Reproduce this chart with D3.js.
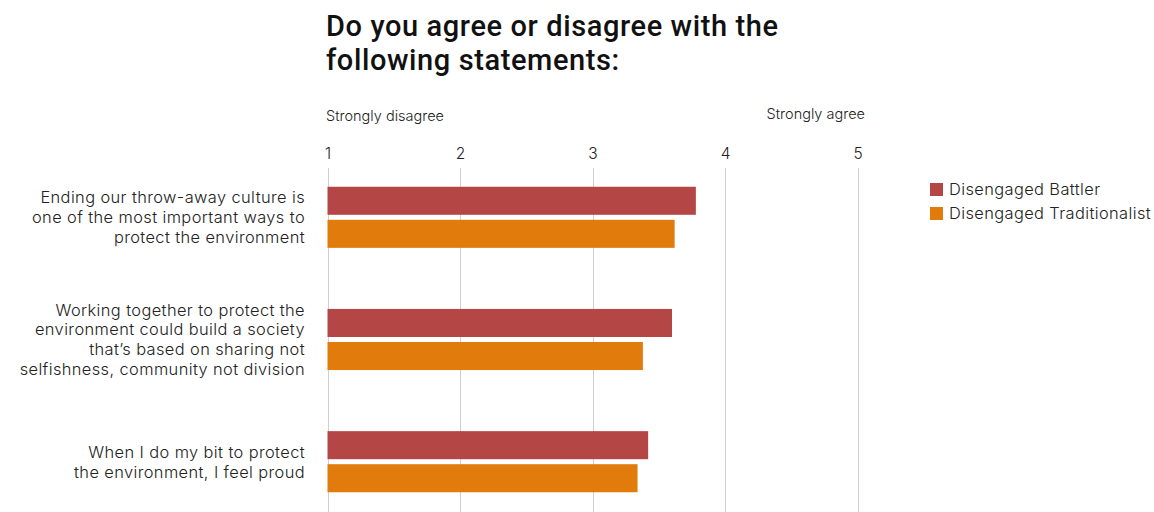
<!DOCTYPE html>
<html>
<head>
<meta charset="utf-8">
<script src="https://cdn.jsdelivr.net/npm/d3@7"></script>
<style>
  html, body { margin: 0; padding: 0; background: #fff; }
  svg { display: block; }
</style>
</head>
<body>
<svg id="chart" width="1154" height="512"></svg>
<script>
// Survey statements (each one wrapped onto lines as printed)
const statements = [
  ["Ending our throw-away culture is", "one of the most important ways to", "protect the environment"],
  ["Working together to protect the", "environment could build a society", "that\u2019s based on sharing not", "selfishness, community not division"],
  ["When I do my bit to protect", "the environment, I feel proud"]
];
const seriesNames = ["Disengaged Battler", "Disengaged Traditionalist"];
const battlerValues = [3.78, 3.60, 3.42];
const traditionalistValues = [3.62, 3.38, 3.34];
const tickValues = [1, 2, 3, 4, 5];
const scaleEnds = ["Strongly disagree", "Strongly agree"];
const titleLines = ["Do you agree or disagree with the", "following statements:"];

const colors = ["#b54646", "#e07b0c"];
const seriesValues = [battlerValues, traditionalistValues];

const svg = d3.select("#chart");
const textColor = "#222";
const lightFont = "Inter, 'Open Sans', sans-serif";

const x = d3.scaleLinear().domain([1, 5]).range([327.5, 857.5]);
const y = d3.scaleBand().domain(d3.range(statements.length))
  .range([156.2, 522.8]).paddingInner(0.5).paddingOuter(0.25);
const inner = d3.scaleBand().domain(d3.range(seriesNames.length))
  .range([0, y.bandwidth()]).paddingInner(0.1515);

// Title
svg.append("g").selectAll("text").data(titleLines).join("text")
  .attr("x", 326).attr("y", (d, i) => 36 + i * 34)
  .attr("font-family", "Roboto, sans-serif").attr("font-weight", 500)
  .attr("font-size", 29).attr("letter-spacing", 0.6)
  .attr("fill", "#111").text(d => d);

// Scale end captions
svg.append("text").attr("x", 326).attr("y", 121)
  .attr("font-family", lightFont).attr("font-weight", 300)
  .attr("font-size", 14.5).attr("fill", textColor).text(scaleEnds[0]);
svg.append("text").attr("x", 865).attr("y", 119).attr("text-anchor", "end")
  .attr("font-family", lightFont).attr("font-weight", 300)
  .attr("font-size", 14.5).attr("fill", textColor).text(scaleEnds[1]);

// Top axis with gridlines running down the chart
const axis = svg.append("g").attr("transform", "translate(0,170)")
  .call(d3.axisTop(x).tickValues(tickValues).tickSize(0).tickPadding(11).tickFormat(d3.format("d")));
axis.select(".domain").remove();
axis.selectAll("text")
  .attr("font-family", lightFont).attr("font-weight", 300)
  .attr("font-size", 15.5).attr("fill", textColor);

svg.append("g").selectAll("line").data(tickValues).join("line")
  .attr("x1", d => Math.round(x(d)) + 0.5).attr("x2", d => Math.round(x(d)) + 0.5)
  .attr("y1", 168).attr("y2", 512)
  .attr("stroke", "#cfcfcf").attr("stroke-width", 1);

// Bars
const groups = svg.append("g").selectAll("g").data(statements).join("g")
  .attr("transform", (d, i) => `translate(0,${y(i)})`);

groups.selectAll("rect")
  .data((d, i) => seriesValues.map((vals, s) => ({ s, v: vals[i] })))
  .join("rect")
  .attr("x", x(1))
  .attr("y", d => inner(d.s))
  .attr("width", d => x(d.v) - x(1))
  .attr("height", inner.bandwidth())
  .attr("fill", d => colors[d.s]);

// Statement labels, centred on each group
groups.each(function (lines) {
  const g = d3.select(this);
  const lh = 20;
  const mid = y.bandwidth() / 2;
  g.selectAll("text.lab").data(lines).join("text")
    .attr("class", "lab")
    .attr("x", 305)
    .attr("y", (d, j) => mid + (j - (lines.length - 1) / 2) * lh + 6)
    .attr("text-anchor", "end")
    .attr("font-family", lightFont).attr("font-weight", 300)
    .attr("font-size", 16.4).attr("letter-spacing", 0.4).attr("fill", textColor)
    .text(d => d);
});

// Legend
const legend = svg.append("g").attr("transform", "translate(930,183)");
const items = legend.selectAll("g").data(seriesNames).join("g")
  .attr("transform", (d, i) => `translate(0,${i * 24})`);
items.append("rect").attr("width", 13).attr("height", 13)
  .attr("fill", (d, i) => colors[i]);
items.append("text").attr("x", 19).attr("y", 12)
  .attr("font-family", lightFont).attr("font-weight", 300)
  .attr("font-size", 16.4).attr("letter-spacing", 0.4).attr("fill", textColor).text(d => d);
</script>
</body>
</html>
